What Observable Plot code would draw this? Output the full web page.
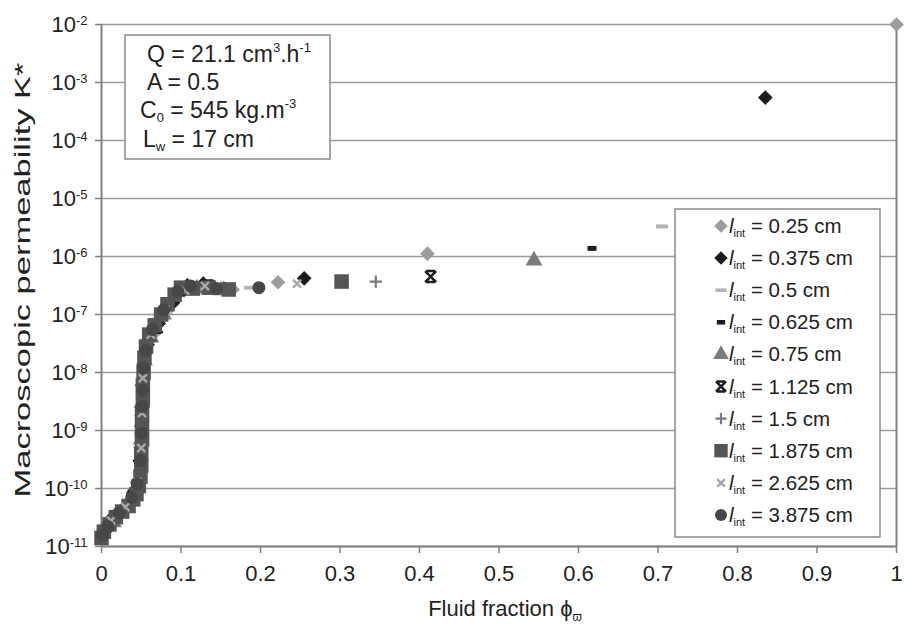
<!DOCTYPE html>
<html><head><meta charset="utf-8">
<script src="https://cdn.jsdelivr.net/npm/d3@7"></script>
<script src="https://cdn.jsdelivr.net/npm/@observablehq/plot@0.6"></script>
<style>
body{margin:0;background:#fff;}
#chart{width:904px;height:624px;}
</style></head><body><div id="chart"></div>
<script>
// ---- tick values ----
const xTicks = [0, 0.1, 0.2, 0.3, 0.4, 0.5, 0.6, 0.7, 0.8, 0.9, 1];
const yTicks = [1e-11, 1e-10, 1e-9, 1e-8, 1e-7, 1e-6, 1e-5, 1e-4, 1e-3, 1e-2];

// ---- legend labels (l_int in cm) ----
const legendLabels = ["0.25", "0.375", "0.5", "0.625", "0.75", "1.125", "1.5", "1.875", "2.625", "3.875"];

// ---- series values (fluid fraction, permeability K*) ----
const x_025 = [1.0, 0.41, 0.222, 0.165, 0.13, 0.1, 0.085, 0.068, 0.056, 0.052, 0.050, 0.049, 0.047, 0.036, 0.02, 0.005];
const y_025 = [1e-2, 1.12e-6, 3.6e-7, 2.7e-7, 3.0e-7, 2.6e-7, 1.4e-7, 5.0e-8, 2.2e-8, 4.0e-9, 1.8e-9, 5e-10, 1.2e-10, 5.5e-11, 3.2e-11, 1.8e-11];

const x_0375 = [0.835, 0.255, 0.154, 0.128, 0.108, 0.09, 0.072, 0.058, 0.053, 0.051, 0.050, 0.048, 0.041, 0.028, 0.012, 0.003];
const y_0375 = [5.5e-4, 4.2e-7, 2.8e-7, 3.4e-7, 3.2e-7, 1.6e-7, 7e-8, 3e-8, 1.4e-8, 6e-9, 1.2e-9, 3e-10, 9e-11, 4.6e-11, 3e-11, 2e-11];

const x_05 = [0.705, 0.187, 0.14, 0.11, 0.082, 0.06, 0.052, 0.049, 0.044, 0.025, 0.008];
const y_05 = [3.3e-6, 2.9e-7, 3.0e-7, 2.9e-7, 1.1e-7, 3.5e-8, 8e-9, 8e-10, 1e-10, 4e-11, 2.2e-11];

const x_0625 = [0.617];
const y_0625 = [1.38e-6];

const x_075 = [0.544, 0.15, 0.12, 0.095, 0.078, 0.062, 0.054, 0.051, 0.050, 0.046, 0.032, 0.015];
const y_075 = [8.5e-7, 2.6e-7, 2.8e-7, 2.4e-7, 1.0e-7, 4e-8, 1.6e-8, 3e-9, 7e-10, 1.5e-10, 5e-11, 2.6e-11];

const x_1125 = [0.414, 0.135, 0.1, 0.07];
const y_1125 = [4.5e-7, 3.1e-7, 2.7e-7, 6e-8];

const x_15 = [0.345, 0.118, 0.09];
const y_15 = [3.7e-7, 3.0e-7, 1.8e-7];

const x_1875 = [0.302, 0.16, 0.135, 0.115, 0.1, 0.092, 0.083, 0.075, 0.067, 0.06, 0.056, 0.054, 0.053, 0.052, 0.052, 0.051, 0.051, 0.051, 0.05, 0.05, 0.049, 0.047, 0.044, 0.04, 0.034, 0.026, 0.018, 0.01, 0.003, 0.0];
const y_1875 = [3.7e-7, 2.7e-7, 2.9e-7, 2.8e-7, 2.9e-7, 2.2e-7, 1.5e-7, 1e-7, 6.5e-8, 4.5e-8, 2.8e-8, 1.8e-8, 1e-8, 6e-9, 3.5e-9, 2e-9, 1.2e-9, 7e-10, 4e-10, 2.5e-10, 1.6e-10, 1.1e-10, 8e-11, 6.5e-11, 5e-11, 4e-11, 3.2e-11, 2.4e-11, 1.8e-11, 1.4e-11];

const x_2625 = [0.246, 0.13, 0.105, 0.08, 0.062, 0.052, 0.051, 0.05, 0.045, 0.03, 0.012];
const y_2625 = [3.4e-7, 3.1e-7, 2.6e-7, 1.2e-7, 4.5e-8, 8e-9, 2e-9, 5e-10, 1.3e-10, 4.8e-11, 2.8e-11];

const x_3875 = [0.198, 0.145, 0.112, 0.096, 0.078, 0.064, 0.056, 0.053, 0.052, 0.051, 0.05, 0.049, 0.045, 0.038, 0.022, 0.008, 0.001];
const y_3875 = [2.9e-7, 2.8e-7, 3.1e-7, 2.5e-7, 1.2e-7, 5.5e-8, 2.4e-8, 1.2e-8, 5e-9, 2.6e-9, 9e-10, 3e-10, 1.2e-10, 7e-11, 3.8e-11, 2.2e-11, 1.6e-11];

// ---- custom marker shapes ----
const symDash = {draw(c, s){ const r = Math.sqrt(s/Math.PI); c.rect(-r, -r*0.33, 2*r, r*0.66); }};
const symSmallDash = {draw(c, s){ const r = Math.sqrt(s/Math.PI); c.rect(-r, -r*0.55, 2*r, r*1.1); }};
const symStar = {draw(c, s){ const a = Math.sqrt(s/Math.PI);
  c.moveTo(-a,-a); c.lineTo(a,a); c.moveTo(a,-a); c.lineTo(-a,a);
  c.moveTo(-a*0.8,-a); c.lineTo(a*0.8,-a); c.moveTo(-a*0.8,a); c.lineTo(a*0.8,a); }};

const seriesX = [x_025, x_0375, x_05, x_0625, x_075, x_1125, x_15, x_1875, x_2625, x_3875];
const seriesY = [y_025, y_0375, y_05, y_0625, y_075, y_1125, y_15, y_1875, y_2625, y_3875];
const styles = [
  {symbol: "diamond2", d3sym: d3.symbolDiamond2, fill: "#9c9c9c", r: 6.6},
  {symbol: "diamond2", d3sym: d3.symbolDiamond2, fill: "#1c1c1c", r: 6.6},
  {symbol: symDash, d3sym: symDash, fill: "#b4b4b4", r: 6},
  {symbol: symSmallDash, d3sym: symSmallDash, fill: "#1c1c1c", r: 4.5},
  {symbol: "triangle", d3sym: d3.symbolTriangle, fill: "#7c7c7c", r: 6.3},
  {symbol: symStar, d3sym: symStar, stroke: "#1c1c1c", r: 5.5, sw: 2.5},
  {symbol: "plus", d3sym: d3.symbolPlus, stroke: "#7a7a7a", r: 4, sw: 2.2},
  {symbol: "square", d3sym: d3.symbolSquare, fill: "#555555", r: 8.2},
  {symbol: "times", d3sym: d3.symbolTimes, stroke: "#a8a8a8", r: 3.8, sw: 2.4},
  {symbol: "circle", d3sym: d3.symbolCircle, fill: "#474747", r: 6.5}
];

const dotMarks = seriesX.map((xs, i) => {
  const st = styles[i];
  const data = xs.map((x, j) => ({x, y: seriesY[i][j]}));
  return Plot.dot(data, {
    x: "x", y: "y", symbol: st.symbol, r: st.r,
    fill: st.fill || "none", stroke: st.stroke || "none", strokeWidth: st.sw || 0
  });
});

const font = "'Liberation Sans', Arial, Helvetica, sans-serif";
const plot = Plot.plot({
  width: 904, height: 624,
  marginLeft: 101, marginRight: 8, marginTop: 24, marginBottom: 78,
  style: {fontFamily: font, fontSize: "22px", color: "#222", background: "white", overflow: "visible"},
  x: {domain: [0, 1], label: null},
  y: {type: "log", domain: [1e-11, 1e-2], label: null},
  marks: [
    Plot.gridY(yTicks, {stroke: "#9a9a9a", strokeOpacity: 1, strokeWidth: 1.5}),
    Plot.ruleX([0, 1], {stroke: "#808080", strokeWidth: 2}),
    Plot.ruleY([1e-11], {stroke: "#808080", strokeWidth: 2}),
    Plot.axisY({ticks: yTicks, tickSize: 6, tickPadding: 8, stroke: "#808080", strokeWidth: 1.5, fill: "#222",
      tickFormat: d => String(Math.round(Math.log10(d)))}),
    Plot.axisX({ticks: xTicks, tickSize: 7, tickPadding: 12, stroke: "#808080", strokeWidth: 1.5, fill: "#222",
      tickFormat: d => d === 0 ? "0" : d === 1 ? "1" : d.toFixed(1)}),
    ...dotMarks
  ]
});
document.getElementById("chart").appendChild(plot);

const svg = d3.select(plot);
// superscript exponents on y tick labels
svg.selectAll('g[aria-label="y-axis tick label"] text').each(function(){
  const e = this.textContent;
  const t = d3.select(this);
  t.text("10");
  t.append("tspan").attr("dy", "-0.5em").attr("font-size", "13px").text(e);
});

// y-axis title
svg.append("text")
  .attr("transform", "translate(30,280) rotate(-90)")
  .attr("text-anchor", "middle").attr("font-size", 22).attr("fill", "#222")
  .attr("font-family", font)
  .attr("textLength", 435).attr("lengthAdjust", "spacingAndGlyphs")
  .text("Macroscopic permeability K*");

// x-axis title
const xl = svg.append("text").attr("x", 505).attr("y", 616)
  .attr("text-anchor", "middle").attr("font-size", 22).attr("fill", "#222").attr("font-family", font);
xl.append("tspan").text("Fluid fraction \u03D5");
xl.append("tspan").attr("dy", 5).attr("font-size", 12).text("\u03D6");

// info box
const ib = svg.append("g").attr("font-family", font).attr("font-size", 23).attr("fill", "#222").attr("text-anchor", "start");
ib.append("rect").attr("x", 125).attr("y", 35).attr("width", 205).attr("height", 124)
  .attr("fill", "white").attr("stroke", "#8a8a8a").attr("stroke-width", 1.5);
const l1 = ib.append("text").attr("x", 147).attr("y", 62);
l1.append("tspan").text("Q = 21.1 cm");
l1.append("tspan").attr("dy", -10).attr("font-size", 13).text("3");
l1.append("tspan").attr("dy", 10).text(".h");
l1.append("tspan").attr("dy", -10).attr("font-size", 13).text("-1");
ib.append("text").attr("x", 147).attr("y", 90).text("A = 0.5");
const l3 = ib.append("text").attr("x", 140).attr("y", 118);
l3.append("tspan").text("C");
l3.append("tspan").attr("dy", 4).attr("font-size", 13).text("0");
l3.append("tspan").attr("dy", -4).text(" = 545 kg.m");
l3.append("tspan").attr("dy", -10).attr("font-size", 13).text("-3");
const l4 = ib.append("text").attr("x", 143).attr("y", 147);
l4.append("tspan").text("L");
l4.append("tspan").attr("dy", 4).attr("font-size", 13).text("w");
l4.append("tspan").attr("dy", -4).text(" = 17 cm");

// legend
const lg = svg.append("g").attr("font-family", font).attr("font-size", 20.5).attr("fill", "#222").attr("text-anchor", "start");
lg.append("rect").attr("x", 675).attr("y", 209).attr("width", 205).attr("height", 328)
  .attr("fill", "white").attr("stroke", "#8a8a8a").attr("stroke-width", 1.5);
legendLabels.forEach((lab, i) => {
  const st = styles[i];
  const cy = 226 + i * 32.1;
  lg.append("path")
    .attr("transform", `translate(721,${cy})`)
    .attr("d", d3.symbol(st.d3sym, Math.PI * st.r * st.r * 0.85)())
    .attr("fill", st.fill || "none").attr("stroke", st.stroke || "none").attr("stroke-width", st.sw || 0);
  const t = lg.append("text").attr("x", 729).attr("y", cy + 7);
  t.append("tspan").attr("font-style", "italic").text("l");
  t.append("tspan").attr("dy", 4).attr("font-size", 11).text("int");
  t.append("tspan").attr("dy", -4).text(" = " + lab + " cm");
});
</script>
</body></html>
